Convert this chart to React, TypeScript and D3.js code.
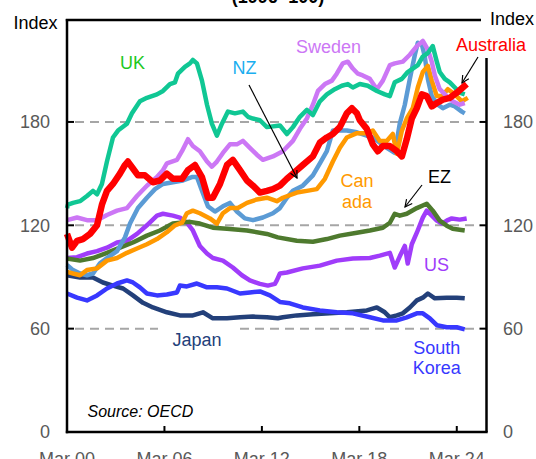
import React from "react";
import * as d3 from "d3";

// Real house price indices, 1996 = 100 (decimal year, index value)
const uk: [number, number][] = [
  [2000.17, 130], [2000.23, 132], [2000.54, 133], [2000.97, 134], [2001.4, 137], [2001.77, 140],
  [2002.02, 138], [2002.32, 144], [2002.63, 157], [2003.0, 171], [2003.31, 175], [2003.86, 179],
  [2004.17, 185], [2004.66, 192], [2005.09, 194], [2005.71, 196], [2006.08, 198], [2006.51, 202],
  [2006.82, 203], [2007.0, 208], [2007.43, 212], [2007.74, 214], [2007.92, 216], [2008.17, 214],
  [2008.48, 204], [2008.79, 190], [2009.09, 179], [2009.4, 172], [2009.71, 179], [2010.08, 186],
  [2010.51, 185], [2011.0, 186], [2011.31, 183], [2011.62, 182], [2012.05, 181], [2012.48, 177],
  [2013.28, 178], [2013.71, 173], [2014.08, 177], [2014.51, 183], [2014.94, 187], [2015.31, 184],
  [2015.74, 192], [2016.17, 196], [2016.66, 199], [2017.09, 201], [2017.46, 202], [2017.77, 200],
  [2018.2, 202], [2018.69, 201], [2019.25, 198], [2019.74, 196], [2020.05, 195], [2020.35, 203],
  [2020.79, 205], [2021.15, 209], [2021.46, 211], [2021.77, 213], [2022.08, 218], [2022.39, 220],
  [2022.69, 224], [2022.94, 215], [2023.12, 209], [2023.43, 205], [2023.74, 203], [2024.05, 200],
  [2024.35, 197], [2024.66, 196],
];

const sweden: [number, number][] = [
  [2000.17, 123], [2000.79, 124.5], [2001.4, 123], [2002.02, 123], [2002.63, 126], [2003.25, 128.5],
  [2003.86, 130], [2004.48, 137], [2005.09, 143], [2005.71, 148], [2006.08, 152], [2006.32, 156],
  [2006.94, 158], [2007.25, 163], [2007.62, 170], [2007.92, 166], [2008.35, 163], [2008.79, 157],
  [2009.09, 154], [2009.4, 157], [2009.77, 162], [2010.2, 167], [2010.63, 167], [2011.0, 169],
  [2011.43, 165], [2011.86, 161], [2012.23, 158], [2012.85, 160], [2013.46, 163], [2014.08, 169],
  [2014.51, 176], [2014.94, 182], [2015.31, 190], [2015.62, 198], [2016.05, 202], [2016.48, 204],
  [2016.78, 208], [2017.15, 214], [2017.46, 215], [2017.77, 211], [2018.08, 208], [2018.38, 207],
  [2018.82, 205], [2019.25, 199], [2019.62, 204], [2020.05, 213], [2020.35, 214], [2020.85, 215],
  [2021.28, 219], [2021.71, 224], [2022.08, 227], [2022.39, 222], [2022.63, 215], [2022.82, 207],
  [2023.12, 199], [2023.55, 195], [2023.92, 192], [2024.35, 190], [2024.66, 191],
];

const australia: [number, number][] = [
  [2000.17, 115], [2000.48, 107], [2000.79, 111], [2001.15, 112], [2001.59, 115], [2002.02, 120],
  [2002.32, 132], [2002.63, 140], [2003.0, 144], [2003.43, 150], [2003.74, 155], [2003.92, 157],
  [2004.23, 153], [2004.54, 149], [2004.97, 149], [2005.46, 145], [2005.89, 146], [2006.32, 150],
  [2006.69, 147], [2007.25, 147], [2007.62, 152], [2008.05, 155], [2008.48, 148], [2008.85, 136],
  [2009.15, 136], [2009.59, 144], [2010.02, 155], [2010.38, 158], [2010.82, 152], [2011.25, 146],
  [2011.62, 143], [2012.05, 139], [2012.48, 140], [2012.85, 141], [2013.28, 143], [2013.71, 147],
  [2014.08, 150], [2014.69, 155], [2015.31, 160], [2015.74, 168], [2016.17, 171], [2016.54, 173],
  [2016.97, 177], [2017.4, 185], [2017.71, 188], [2018.02, 185], [2018.2, 181], [2018.63, 176],
  [2019.0, 167], [2019.31, 163], [2019.62, 166], [2020.05, 166], [2020.48, 163], [2020.79, 160],
  [2021.09, 170], [2021.4, 182], [2021.71, 188], [2022.02, 196], [2022.32, 195], [2022.63, 189],
  [2022.94, 191], [2023.31, 193], [2023.74, 194], [2024.17, 197], [2024.54, 200], [2024.78, 202],
];

const nz: [number, number][] = [
  [2000.17, 97], [2000.54, 94], [2000.97, 92], [2001.4, 91], [2001.77, 92], [2002.2, 98],
  [2002.63, 101], [2003.25, 105], [2003.74, 113], [2004.05, 121], [2004.54, 130], [2005.09, 136],
  [2005.59, 141], [2006.08, 144], [2006.69, 145], [2007.31, 146], [2007.86, 148], [2008.17, 148],
  [2008.48, 140], [2008.85, 131], [2009.28, 128], [2009.77, 131], [2010.2, 133], [2010.63, 128],
  [2011.12, 124], [2011.62, 123], [2012.23, 124.5], [2012.85, 127], [2013.28, 130], [2013.71, 136],
  [2014.08, 140], [2014.69, 143], [2015.31, 149], [2015.74, 156], [2016.17, 163], [2016.54, 175],
  [2017.4, 175], [2018.02, 174], [2018.63, 172], [2019.0, 171], [2019.43, 168], [2019.86, 165],
  [2020.35, 162], [2020.66, 179], [2020.97, 190], [2021.28, 205], [2021.59, 219], [2021.77, 226],
  [2022.02, 225], [2022.2, 218], [2022.39, 205], [2022.63, 195], [2023.0, 190], [2023.31, 188],
  [2023.74, 190], [2024.05, 189], [2024.48, 186], [2024.66, 185],
];

const canada: [number, number][] = [
  [2000.17, 93], [2000.54, 92], [2000.97, 91], [2001.4, 94], [2002.02, 95], [2002.63, 99.5],
  [2003.25, 101], [2003.86, 104], [2004.48, 106.5], [2005.09, 109], [2005.71, 112], [2006.32, 116],
  [2006.82, 120], [2007.25, 121.5], [2007.55, 127], [2007.92, 128.5], [2008.35, 127], [2008.97, 124],
  [2009.4, 121], [2009.77, 127], [2010.2, 130], [2010.69, 130], [2011.25, 133], [2011.86, 135],
  [2012.48, 136], [2013.09, 134], [2013.46, 136], [2014.32, 139], [2014.94, 140], [2015.55, 141],
  [2016.05, 147], [2016.54, 157], [2016.97, 165], [2017.4, 171], [2018.02, 173.5], [2018.63, 173.5],
  [2019.0, 175], [2019.43, 169], [2019.86, 169], [2020.23, 173], [2020.48, 161.5], [2020.79, 175],
  [2021.09, 182], [2021.46, 188], [2021.77, 200], [2022.08, 209], [2022.39, 212.5], [2022.63, 204],
  [2022.94, 195], [2023.25, 195], [2023.62, 199], [2024.05, 196], [2024.48, 192], [2024.85, 194],
];

const ez: [number, number][] = [
  [2000.17, 100.7], [2000.97, 99.5], [2001.77, 101], [2002.63, 104], [2003.43, 107], [2004.23, 110],
  [2005.09, 114], [2005.89, 117], [2006.69, 121], [2007.74, 122], [2008.35, 121], [2009.15, 118.6],
  [2010.02, 118], [2011.25, 117], [2012.48, 115], [2013.15, 113], [2014.32, 111], [2015.31, 110.5],
  [2016.17, 112], [2016.97, 114], [2018.02, 115.7], [2018.82, 117], [2019.62, 118.6], [2020.05, 121.5],
  [2020.35, 126.7], [2020.66, 125.6], [2021.09, 126.7], [2021.71, 130], [2022.32, 132.5], [2022.69, 128.5],
  [2023.12, 122.7], [2023.55, 119.8], [2023.92, 118], [2024.66, 117],
];

const us: [number, number][] = [
  [2000.17, 101], [2000.79, 101.5], [2001.4, 103.6], [2002.02, 105], [2002.63, 107], [2003.25, 110],
  [2003.86, 111], [2004.48, 115], [2005.09, 120], [2005.71, 125.6], [2006.08, 126.7], [2006.69, 125.6],
  [2007.12, 124.5], [2007.55, 121.5], [2007.92, 117], [2008.35, 108], [2008.79, 103.6], [2009.15, 101],
  [2009.77, 99.5], [2010.38, 95.5], [2010.94, 91], [2011.43, 88], [2012.05, 86], [2012.54, 85],
  [2012.97, 86], [2013.09, 88], [2013.28, 92], [2013.71, 92.6], [2014.69, 95], [2015.74, 96.6],
  [2016.78, 99.5], [2017.77, 100.7], [2018.82, 101], [2019.43, 102.4], [2020.05, 104], [2020.35, 95.5],
  [2020.66, 102], [2020.97, 108], [2021.15, 97.8], [2021.4, 109], [2021.71, 115.7], [2022.08, 124.5],
  [2022.32, 128.5], [2022.63, 125.6], [2022.94, 122.7], [2023.25, 121], [2023.55, 122.7], [2023.86, 124],
  [2024.35, 123.3], [2024.78, 124],
];

const japan: [number, number][] = [
  [2000.17, 91], [2000.97, 89.7], [2001.77, 89.7], [2002.38, 86.8], [2003.0, 85], [2003.62, 83.3],
  [2004.23, 79.3], [2004.85, 75], [2005.46, 72.3], [2006.32, 69.5], [2007.12, 67.7], [2007.92, 67.7],
  [2008.54, 69.5], [2009.15, 66], [2010.02, 66], [2010.82, 66.6], [2011.62, 67], [2012.48, 66.6],
  [2013.15, 66], [2013.46, 66.6], [2014.32, 67.7], [2015.31, 68.3], [2016.35, 68.9], [2017.4, 69.5],
  [2018.63, 70.6], [2019.25, 72.3], [2019.74, 69.5], [2020.05, 66.6], [2020.48, 67.7], [2020.85, 68.9],
  [2021.28, 72.3], [2021.71, 76.4], [2022.08, 78], [2022.39, 80.4], [2022.82, 77.6], [2023.55, 78],
  [2024.17, 78], [2024.66, 77.6],
];

const southKorea: [number, number][] = [
  [2000.17, 80.4], [2000.79, 78], [2001.4, 76.4], [2002.02, 79.3], [2002.63, 83.3], [2003.25, 86.2],
  [2003.86, 88], [2004.23, 86.8], [2004.66, 84], [2005.09, 80.4], [2005.71, 79.3], [2006.32, 79.8],
  [2006.94, 81], [2007.12, 85], [2007.55, 84.5], [2008.17, 86.2], [2008.79, 84], [2009.4, 84],
  [2010.02, 83.3], [2010.82, 80.4], [2011.43, 81], [2012.05, 81.6], [2012.66, 79.3], [2013.28, 75.5],
  [2013.89, 74.7], [2014.69, 72.3], [2015.74, 70.6], [2016.78, 69.5], [2017.77, 68.9], [2018.82, 66.6],
  [2019.62, 64.8], [2020.48, 64.8], [2021.09, 66.6], [2021.71, 68.9], [2022.08, 68.9], [2022.51, 66],
  [2022.94, 62], [2023.55, 60.8], [2024.17, 60.8], [2024.66, 59.6],
];

const yTicks = [0, 60, 120, 180];
const gridValues = [60, 120, 180];
const xTickYears = [2000.17, 2006.17, 2012.17, 2018.17, 2024.17];
const xTickLabels = ["Mar 00", "Mar 06", "Mar 12", "Mar 18", "Mar 24"];

const series = [
  { name: "Japan", data: japan, color: "#23407A", width: 4.5 },
  { name: "South Korea", data: southKorea, color: "#3838FF", width: 4.5 },
  { name: "US", data: us, color: "#A03CFA", width: 4.5 },
  { name: "EZ", data: ez, color: "#4E7A2E", width: 4.5 },
  { name: "NZ", data: nz, color: "#5B9BD5", width: 4.5 },
  { name: "Canada", data: canada, color: "#FF9900", width: 4.5 },
  { name: "Sweden", data: sweden, color: "#CC77F5", width: 4.5 },
  { name: "UK", data: uk, color: "#10C794", width: 4.5 },
  { name: "Australia", data: australia, color: "#FF0000", width: 6.5 },
];

const W = 536;
const H = 459;
const left = 67;
const right = 486.5;
const bottom = 432;

const x = d3.scaleLinear().domain([2000.17, 2026.0]).range([left, right]);
const y = d3.scaleLinear().domain([0, 240]).range([bottom, 18.6]);

const line = d3
  .line<[number, number]>()
  .x((d) => x(d[0]))
  .y((d) => y(d[1]));

const font = "'Liberation Sans', Arial, Helvetica, sans-serif";
const axisGrey = "#595959";

export default function App() {
  return (
    <svg
      width={W}
      height={H}
      viewBox={`0 0 ${W} ${H}`}
      style={{ position: "fixed", left: 0, top: 0, background: "#fff" }}
      fontFamily={font}
    >
      <defs>
        <marker
          id="arrow"
          viewBox="0 0 10 10"
          refX="9"
          refY="5"
          markerWidth="9"
          markerHeight="9"
          orient="auto-start-reverse"
          markerUnits="userSpaceOnUse"
        >
          <path d="M1,1 L9,5 L1,9" fill="none" stroke="#000" strokeWidth="1.3" />
        </marker>
      </defs>
      <rect width={W} height={H} fill="#fff" />

      {/* title remnant */}
      <text x={278} y={3} textAnchor="middle" fontSize={18} fontWeight="bold" fill="#000">
        (1996=100)
      </text>

      {/* dashed gridlines */}
      {gridValues.map((v) => (
        <line
          key={v}
          x1={75}
          x2={478}
          y1={y(v)}
          y2={y(v)}
          stroke="#A6A6A6"
          strokeWidth={2}
          strokeDasharray="9,6"
        />
      ))}

      {/* label backing for Japan */}
      <rect x={158} y={322} width={82} height={30} fill="#fff" />

      {/* series */}
      {series.map((s) => (
        <path
          key={s.name}
          d={line(s.data) || ""}
          fill="none"
          stroke={s.color}
          strokeWidth={s.width}
          strokeLinejoin="round"
          strokeLinecap="butt"
        />
      ))}

      {/* frame */}
      <g stroke="#000" strokeWidth={2.5} fill="none">
        <line x1={left} x2={left} y1={y(240) + 0.5} y2={bottom + 1.2} />
        <line x1={left - 1.2} x2={right + 1.2} y1={bottom} y2={bottom} />
        <line x1={left - 1.2} x2={481} y1={20} y2={20} />
        <line x1={right} x2={right} y1={58} y2={bottom} />
      </g>

      {/* ticks */}
      <g stroke="#000" strokeWidth={2}>
        {gridValues.map((v) => (
          <line key={`l${v}`} x1={left} x2={left + 7} y1={y(v)} y2={y(v)} />
        ))}
        {gridValues.map((v) => (
          <line key={`r${v}`} x1={right - 7} x2={right} y1={y(v)} y2={y(v)} />
        ))}
        {xTickYears.slice(1).map((t) => (
          <line key={`x${t}`} x1={x(t)} x2={x(t)} y1={bottom - 6} y2={bottom} />
        ))}
      </g>

      {/* y tick labels */}
      <g fontSize={18} fill={axisGrey}>
        {yTicks.map((v) => (
          <text key={`yl${v}`} x={50} y={y(v)} dy="0.36em" textAnchor="end">
            {v}
          </text>
        ))}
        {yTicks.map((v) => (
          <text key={`yr${v}`} x={503} y={y(v)} dy="0.36em" textAnchor="start">
            {v}
          </text>
        ))}
        {xTickYears.map((t, i) => (
          <text key={`xl${t}`} x={x(t)} y={465} textAnchor="middle">
            {xTickLabels[i]}
          </text>
        ))}
      </g>

      {/* axis titles */}
      <text x={57.5} y={29} textAnchor="end" fontSize={18} fill="#000">
        Index
      </text>
      <text x={490} y={25} textAnchor="start" fontSize={18} fill="#000">
        Index
      </text>

      {/* series labels */}
      <g fontSize={18}>
        <text x={120} y={69} fill="#1EC81E">UK</text>
        <text x={232.5} y={74} fill="#1AAEEF">NZ</text>
        <text x={296} y={52.5} fill="#CC77F5">Sweden</text>
        <text x={456} y={50.7} fill="#FF0000">Australia</text>
        <text x={357} y={186.5} textAnchor="middle" fill="#FF9900">Can</text>
        <text x={357} y={208} textAnchor="middle" fill="#FF9900">ada</text>
        <text x={428} y={183.3} fill="#000">EZ</text>
        <text x={424} y={270.7} fill="#A03CFA">US</text>
        <text x={436.7} y={354} textAnchor="middle" fill="#3838FF">South</text>
        <text x={436.7} y={374} textAnchor="middle" fill="#3838FF">Korea</text>
        <text x={197} y={346} textAnchor="middle" fill="#23407A">Japan</text>
      </g>

      {/* pointers */}
      <g stroke="#000" strokeWidth={1.2} fill="none">
        <line x1={249} y1={85} x2={297} y2={178} markerEnd="url(#arrow)" />
        <line x1={478} y1={57} x2={462} y2={83} markerEnd="url(#arrow)" />
        <line x1={422} y1={185} x2={405} y2={207} markerEnd="url(#arrow)" />
      </g>

      <text x={87.5} y={417} fontSize={16} fontStyle="italic" fill="#000">
        Source: OECD
      </text>
    </svg>
  );
}
